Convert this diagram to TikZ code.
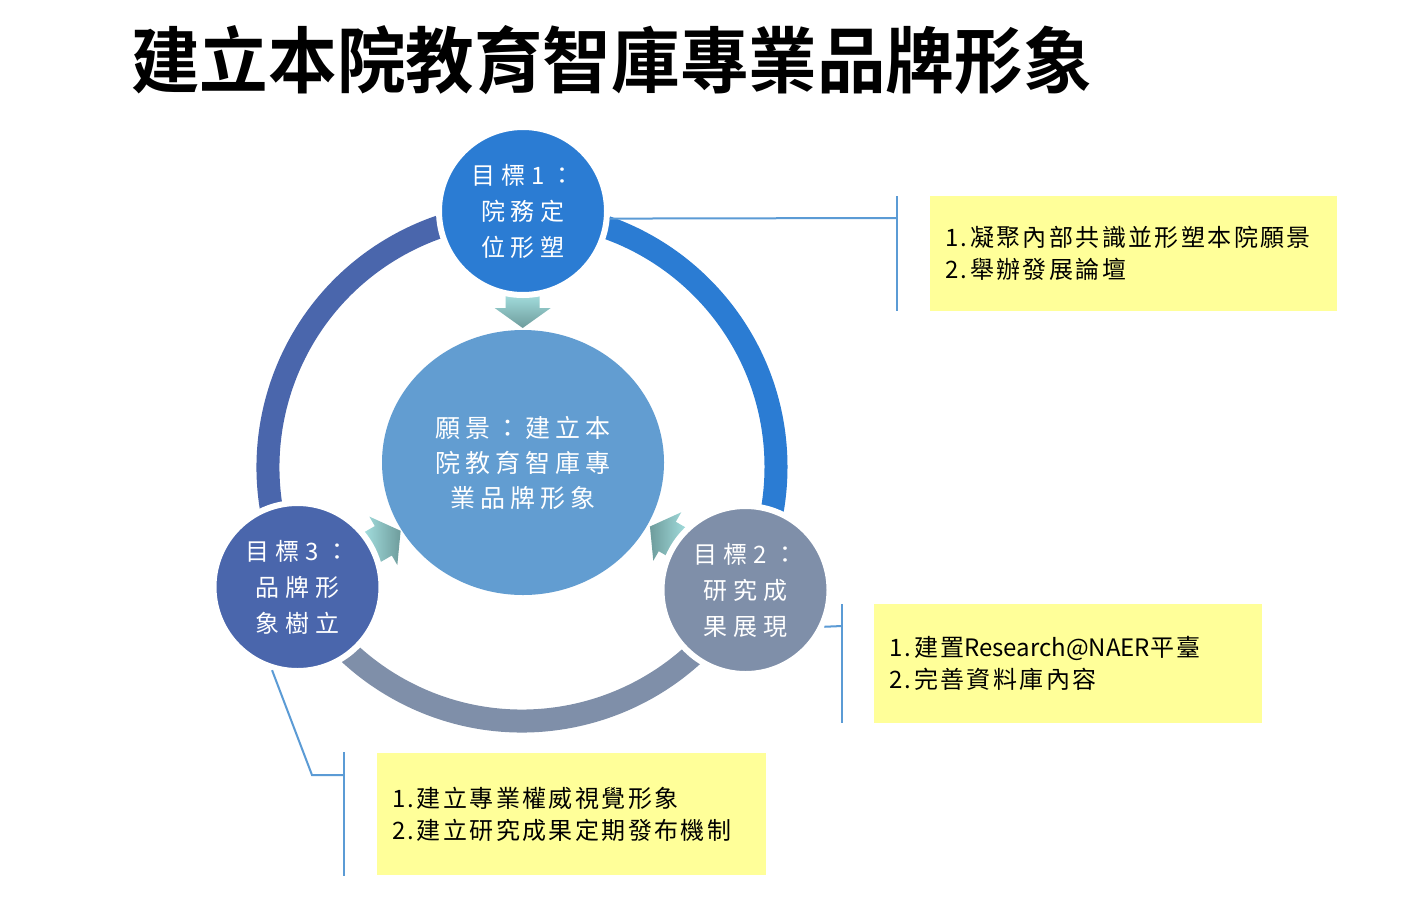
\documentclass[tikz,border=0pt]{standalone}
\usepackage{fontspec}
\setmainfont{Noto Sans CJK TC}
\newfontfamily\titlefont{Noto Sans CJK TC Bold}[FakeStretch=0.953]
\newfontfamily\circfont{Noto Sans CJK TC}[LetterSpace=25]
\newfontfamily\visfont{Noto Sans CJK TC}[LetterSpace=20]
\newfontfamily\boxfont{Noto Sans CJK TC}[LetterSpace=10]
\usetikzlibrary{calc,shapes.geometric}
\definecolor{cOne}{HTML}{2B7CD3}
\definecolor{cTwo}{HTML}{7F8FA9}
\definecolor{cThree}{HTML}{4A66AC}
\definecolor{cCenter}{HTML}{629DD1}
\definecolor{cBox}{HTML}{FFFF99}
\definecolor{cLine}{HTML}{5B9BD5}
\definecolor{aLight}{HTML}{A8E4E4}
\definecolor{aDark}{HTML}{6E9C9C}
\tikzset{
  goal/.style={circle, minimum size=168pt, inner sep=0pt, draw=white, line width=6pt,
    text=white, align=center, font=\circfont\fontsize{24}{36}\selectfont},
  ringseg/.style={line width=23pt},
  conn/.style={draw=cLine, line width=2pt},
  infobox/.style={fill=cBox, anchor=north west, inner xsep=15pt, inner ysep=0pt,
    align=left, text=black, font=\boxfont\fontsize{24}{32}\selectfont},
}
\newcommand{\blockarrow}[3]{%
  \shade[#3]
    ($(#1)+(#2+90:17)$) -- ($(#1)+(#2:17)+(#2+90:17)$) -- ($(#1)+(#2:17)+(#2+90:28)$)
    -- ($(#1)+(#2:37)$) -- ($(#1)+(#2:17)+(#2-90:28)$) -- ($(#1)+(#2:17)+(#2-90:17)$)
    -- ($(#1)+(#2-90:17)$) -- cycle;}
\begin{document}
\begin{tikzpicture}[x=1pt,y=-1pt]
\fill[white] (0,0) rectangle (1415,900);
\useasboundingbox (0,0) rectangle (1415,900);

% title
\node[anchor=base west, inner sep=0pt, font=\titlefont\fontsize{72}{72}\selectfont] (title) at (131,87) {建立本院教育智庫專業品牌形象};

% ring
\coordinate (rc) at (522,467);
\draw[ringseg, cOne] (rc) ++(-90:254) arc[start angle=-90, end angle=28.8, radius=254];
\draw[ringseg, cTwo] (rc) ++(28.8:254) arc[start angle=28.8, end angle=151.9, radius=254];
\draw[ringseg, cThree] (rc) ++(151.9:254) arc[start angle=151.9, end angle=270, radius=254];

% arrows
\coordinate (t1) at (522.7,291);
\coordinate (t2) at (682,545);
\coordinate (t3) at (368.6,549.3);
\blockarrow{t1}{90}{top color=aLight, bottom color=aDark}
\blockarrow{t2}{210}{left color=aDark, right color=aLight}
\blockarrow{t3}{330}{left color=aLight, right color=aDark}

% goal circles
\node[goal, fill=cOne] (g1) at (523,211) {目標1：\\院務定\\位形塑};
\node[goal, fill=cTwo] (g2) at (745.5,590) {目標2：\\研究成\\果展現};
\node[goal, fill=cThree] (g3) at (297.5,587) {目標3：\\品牌形\\象樹立};

% vision
\node[ellipse, fill=cCenter, minimum width=282pt, minimum height=265pt, inner sep=0pt,
  text=white, align=center, font=\visfont\fontsize{25}{35}\selectfont] (vis) at (523,462.5)
  {願景：建立本\\院教育智庫專\\業品牌形象};

% info boxes
\node[infobox, text width=377pt, minimum height=115pt] (b1) at (930,196)
  {1.凝聚內部共識並形塑本院願景\\2.舉辦發展論壇};
\node[infobox, text width=358pt, minimum height=119pt] (b2) at (874,604)
  {1.建置{\addfontfeature{LetterSpace=0}Research@NAER}平臺\\2.完善資料庫內容};
\node[infobox, text width=359pt, minimum height=122pt] (b3) at (377,753)
  {1.建立專業權威視覺形象\\2.建立研究成果定期發布機制};

% connectors
\coordinate (k1) at (897,218);
\coordinate (k1a) at (897,196);
\coordinate (k1b) at (897,311);
\draw[conn] (g1.-5) -- (k1);
\draw[conn] (k1a) -- (k1b);

\coordinate (k2) at (842,626);
\coordinate (k2a) at (842,604);
\coordinate (k2b) at (842,723);
\draw[conn] (g2.-25) -- (k2);
\draw[conn] (k2a) -- (k2b);

\coordinate (k3m) at (312,775);
\coordinate (k3) at (344,775);
\coordinate (k3a) at (344,752);
\coordinate (k3b) at (344,876);
\draw[conn] (g3.253) -- (k3m) -- (k3);
\draw[conn] (k3a) -- (k3b);
\end{tikzpicture}
\end{document}
